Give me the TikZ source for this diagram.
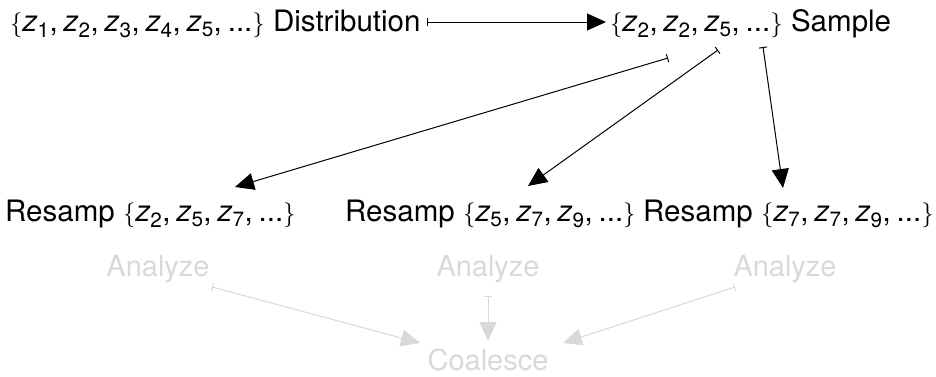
\documentclass[tikz,border=0pt]{standalone}
\usepackage{amsmath}
\usepackage{fontspec}
\setmainfont{TeX Gyre Heros}
\usetikzlibrary{arrows.meta,calc}
\newcommand\zv[1]{\textit{z}$_{\text{#1}}$}
\newcommand\LBr{$\{$}
\newcommand\RBr{$\}$}
\newcommand\cs{,\hspace{0.2em}}
\definecolor{faint}{HTML}{D9D9D9}
\tikzset{
  lbl/.style={inner sep=0pt, anchor=base west, font=\fontsize{29.5}{33}\selectfont},
  glbl/.style={inner sep=0pt, anchor=base, text=faint, font=\fontsize{29}{33}\selectfont},
  conn/.style={line width=1pt, {Bar[width=8pt,line width=1pt]}-{Triangle[length=19pt,width=17pt]}},
  gconn/.style={conn, draw=faint, fill=faint},
}
\begin{document}
\begin{tikzpicture}[x=1pt,y=-1pt]
\useasboundingbox (0,0) rectangle (936,376);
\node[lbl] (dist) at (10,31) {\LBr\zv1\cs\zv2\cs\zv3\cs\zv4\cs\zv5\cs...\RBr{} Distribution};
\node[lbl] (samp) at (610,31) {\LBr\zv2\cs\zv2\cs\zv5\cs...\RBr{} Sample};
\node[lbl] (r1) at (5,221) {Resamp \LBr\zv2\cs\zv5\cs\zv7\cs...\RBr};
\node[lbl] (r2) at (345,221) {Resamp \LBr\zv5\cs\zv7\cs\zv9\cs...\RBr};
\node[lbl] (r3) at (643,221) {Resamp \LBr\zv7\cs\zv7\cs\zv9\cs...\RBr};
\node[glbl] (a1) at (158,276) {Analyze};
\node[glbl] (a2) at (488,276) {Analyze};
\node[glbl] (a3) at (785,276) {Analyze};
\node[glbl] (co) at (488,370) {Coalesce};
\draw[conn] ($(dist.base east)+(6,-9)$) -- ($(samp.base west)+(-4,-9)$);
\draw[conn] ($(samp.base west)+(58,27)$) -- ($(r1.base west)+(230,-34)$);
\draw[conn] ($(samp.base west)+(108,19)$) -- ($(r2.base west)+(183,-35)$);
\draw[conn] ($(samp.base west)+(153,16)$) -- ($(r3.base west)+(140,-33)$);
\draw[gconn] ($(a1.base)+(54,11)$) -- ($(co.base)+(-68,-27)$);
\draw[gconn] ($(a2.base)+(0,20)$) -- ($(co.base)+(0,-29)$);
\draw[gconn] ($(a3.base)+(-50,11)$) -- ($(co.base)+(75,-27)$);
\end{tikzpicture}
\end{document}
